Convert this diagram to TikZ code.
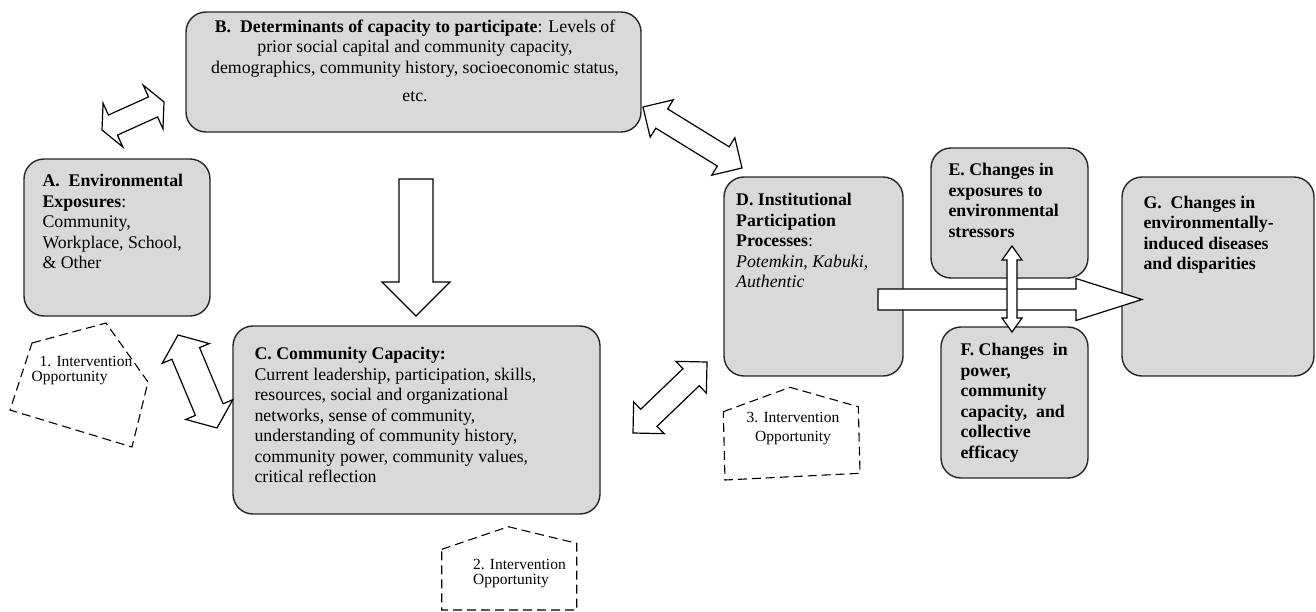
\documentclass[tikz,border=0pt]{standalone}
\usepackage{fontspec}
\setmainfont{Liberation Serif}
\usepackage{tikz}
\usetikzlibrary{calc}

% block arrow, head at both ends: from, to, half shaft, half head, head length
\newcommand{\twowayarrow}[5]{%
  \draw[blockarrow] let \p1=($(#2)-(#1)$), \n1={atan2(\y1,\x1)} in
    (#1) -- ($(#1)+(\n1:#5)+(\n1+90:#4)$) -- ($(#1)+(\n1:#5)+(\n1+90:#3)$)
    -- ($(#2)-(\n1:#5)+(\n1+90:#3)$) -- ($(#2)-(\n1:#5)+(\n1+90:#4)$) -- (#2)
    -- ($(#2)-(\n1:#5)-(\n1+90:#4)$) -- ($(#2)-(\n1:#5)-(\n1+90:#3)$)
    -- ($(#1)+(\n1:#5)-(\n1+90:#3)$) -- ($(#1)+(\n1:#5)-(\n1+90:#4)$) -- cycle;}
% block arrow, head at the end only
\newcommand{\onewayarrow}[5]{%
  \draw[blockarrow] let \p1=($(#2)-(#1)$), \n1={atan2(\y1,\x1)} in
    ($(#1)+(\n1+90:#3)$) -- ($(#2)-(\n1:#5)+(\n1+90:#3)$) -- ($(#2)-(\n1:#5)+(\n1+90:#4)$)
    -- (#2) -- ($(#2)-(\n1:#5)-(\n1+90:#4)$) -- ($(#2)-(\n1:#5)-(\n1+90:#3)$)
    -- ($(#1)-(\n1+90:#3)$) -- cycle;}

\begin{document}
\begin{tikzpicture}[x=1pt,y=-1pt,
  box/.style={draw=black!85, line width=1.4pt, fill=black!15, rounded corners=20pt, inner sep=0pt},
  txt/.style={anchor=north west, inner sep=0pt, align=left, font=\fontsize{17.8}{20.5}\selectfont},
  blockarrow/.style={draw=black, line width=1.2pt, fill=white, line join=miter},
  opp/.style={draw=black, line width=1.1pt, dash pattern=on 9pt off 5pt},
  opptxt/.style={inner sep=0pt, font=\fontsize{15.5}{15}\selectfont}]
\useasboundingbox (0,0) rectangle (1316,611);

% boxes
\node[box, minimum width=186pt, minimum height=157pt] (A) at (117,237.5) {};
\node[box, minimum width=455pt, minimum height=120pt] (B) at (413.5,72) {};
\node[box, minimum width=367pt, minimum height=188pt] (C) at (416.5,420) {};
\node[box, minimum width=179pt, minimum height=199pt] (D) at (813.5,276.5) {};
\node[box, minimum width=157pt, minimum height=130pt] (E) at (1009.5,213) {};
\node[box, minimum width=147pt, minimum height=151pt] (F) at (1014.5,402.5) {};
\node[box, minimum width=192pt, minimum height=199pt] (G) at (1218,276.5) {};

\node[txt] (Atext) at ($(A.north west)+(19,16)$)
  {\textbf{A.\ \ Environmental}\\\textbf{Exposures}:\\Community,\\Workplace, School,\\\& Other};
\node[txt, anchor=north, align=center] (Btext) at ($(B.north)+(1.5,8.4)$)
  {\textbf{B.\ \ Determinants of capacity to participate}: Levels of\\prior social capital and community capacity,\\demographics, community history, socioeconomic status,\\[8pt]etc.};
\node[txt] (Ctext) at ($(C.north west)+(22,22)$)
  {\textbf{C. Community Capacity:}\\Current leadership, participation, skills,\\resources, social and organizational\\networks, sense of community,\\understanding of community history,\\community power, community values,\\critical reflection};
\node[txt] (Dtext) at ($(D.north west)+(12.7,16.7)$)
  {\textbf{D. Institutional}\\\textbf{Participation}\\\textbf{Processes}:\\\textit{Potemkin, Kabuki,}\\\textit{Authentic}};
\node[txt, font=\fontsize{17.8}{20.5}\selectfont\bfseries] (Etext) at ($(E.north west)+(18,16)$)
  {E. Changes in\\exposures to\\environmental\\stressors};
\node[txt, font=\fontsize{17.8}{20.5}\selectfont\bfseries] (Ftext) at ($(F.north west)+(20,17)$)
  {F. Changes\ \ in\\power,\\community\\capacity,\ \ and\\collective\\efficacy};
\node[txt, font=\fontsize{17.8}{20.5}\selectfont\bfseries] (Gtext) at ($(G.north west)+(22,19.4)$)
  {G.\ \ Changes in\\environmentally-\\induced diseases\\and disparities};

% arrow ends
\coordinate (abA) at (102,130);  \coordinate (abB) at (164,102);
\coordinate (bdB) at (643,107);  \coordinate (bdD) at (742,168);
\coordinate (acA) at (178,335);  \coordinate (acC) at (217,428);
\coordinate (cdC) at (633,433);  \coordinate (cdD) at (707,362);
\coordinate (bcB) at (416,179);  \coordinate (bcC) at (416,316);
\coordinate (dgD) at (878,299.5); \coordinate (dgG) at (1142,299.5);
\coordinate (efE) at (1012,246); \coordinate (efF) at (1012,332);

\twowayarrow{abA}{abB}{11pt}{24pt}{12pt}
\twowayarrow{bdB}{bdD}{11.3pt}{22pt}{22pt}
\twowayarrow{acA}{acC}{15pt}{25.5pt}{20pt}
\twowayarrow{cdC}{cdD}{11.8pt}{22pt}{22pt}
\onewayarrow{bcB}{bcC}{17pt}{34pt}{34pt}
\onewayarrow{dgD}{dgG}{10.5pt}{21pt}{66pt}
\twowayarrow{efE}{efF}{5pt}{10pt}{14pt}

% intervention opportunities
\draw[opp] (32,343) -- (106,323) -- (148,382) -- (132,447) -- (10,410) -- cycle;
\node[opptxt, align=left] (opp1) at (82,370.5) {\hspace*{8pt}1. Intervention\\Opportunity};
\draw[opp] (441.7,549.3) -- (508.3,526.7) -- (576.7,543.3) -- (576.7,610) -- (441.7,610) -- cycle;
\node[opptxt, align=left, anchor=west] (opp2) at (473,574) {2. Intervention\\Opportunity};
\draw[opp] (723.3,411.7) -- (790,387.3) -- (858.3,406.7) -- (860,473.3) -- (725,480) -- cycle;
\node[opptxt, align=center, font=\fontsize{15.5}{19}\selectfont] (opp3) at (793,429) {3. Intervention\\Opportunity};
\end{tikzpicture}
\end{document}
